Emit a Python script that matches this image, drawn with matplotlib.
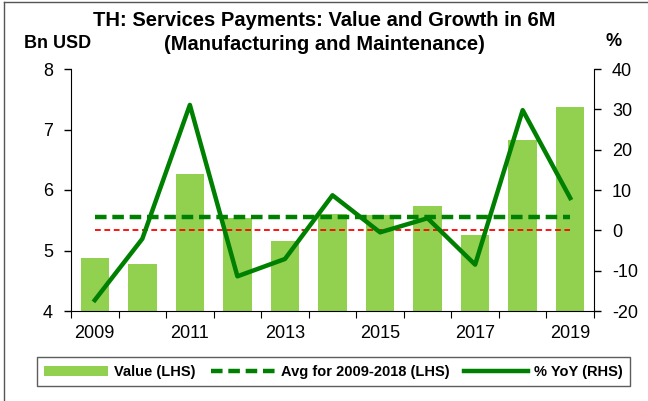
import matplotlib.pyplot as plt
from matplotlib.lines import Line2D
import numpy as np

plt.rcParams['font.family'] = ['Liberation Sans', 'DejaVu Sans']
plt.rcParams['axes.unicode_minus'] = False

years = ['2009', '2010', '2011', '2012', '2013', '2014', '2015', '2016', '2017', '2018', '2019']
value_bn = [4.87, 4.77, 6.26, 5.54, 5.15, 5.60, 5.58, 5.73, 5.25, 6.83, 7.38]
yoy_pct = [-17.3, -2.1, 31.1, -11.4, -7.1, 8.7, -0.5, 3.0, -8.5, 29.8, 8.0]
avg_label = 'Avg for 2009-2018 (LHS)'

bar_green = '#92D050'
dark_green = '#008000'

x = np.arange(len(years))
avg_val = np.mean(value_bn[:10])

fig = plt.figure(figsize=(6.48, 4.01), dpi=100)
ax = fig.add_axes([71 / 648, 1 - 311 / 401, 523 / 648, 242 / 401])
ax2 = ax.twinx()

bars = ax.bar(x, value_bn, width=0.6, color=bar_green, zorder=1)
avg_line, = ax.plot([x[0], x[-1]], [avg_val, avg_val], color=dark_green,
                    lw=3.2, dashes=(2.6, 1.3), zorder=2)
ax2.plot([x[0], x[-1]], [0, 0], color='red', lw=1.3, dashes=(3.2, 2.0))
yoy_line, = ax2.plot(x, yoy_pct, color=dark_green, lw=3.2, zorder=3)

ax.set_ylim(4, 8)
ax.set_yticks([4, 5, 6, 7, 8])
ax2.set_ylim(-20, 40)
ax2.set_yticks([-20, -10, 0, 10, 20, 30, 40])
ax.set_xlim(-0.5, len(years) - 0.5)

# ticks between categories, labels every other year
ax.set_xticks(np.arange(-0.5, len(years), 1.0))
ax.set_xticklabels([])
ax.set_xticks(x[::2], minor=True)
ax.set_xticklabels(years[::2], minor=True)
ax.tick_params(axis='x', which='major', length=5, direction='out', color='black')

for a in (ax, ax2):
    a.spines['top'].set_visible(False)
    a.tick_params(axis='y', labelsize=13, length=5, width=1, pad=8)
ax.tick_params(axis='x', which='minor', length=0, pad=10, labelsize=13)
ax.spines['right'].set_visible(False)
ax2.spines['left'].set_visible(False)
ax2.spines['bottom'].set_visible(False)

fig.text(0.5, 1 - 21 / 401, 'TH: Services Payments: Value and Growth in 6M',
         ha='center', va='center', fontsize=14.5, fontweight='bold')
fig.text(0.5, 1 - 44 / 401, '(Manufacturing and Maintenance)',
         ha='center', va='center', fontsize=14.5, fontweight='bold')
fig.text(58 / 648, 1 - 44 / 401, 'Bn USD', ha='center', va='center',
         fontsize=13, fontweight='bold')
fig.text(614 / 648, 1 - 41 / 401, '%', ha='center', va='center',
         fontsize=13, fontweight='bold')

leg = fig.legend([bars, avg_line, yoy_line],
                 ['Value (LHS)', avg_label, '% YoY (RHS)'],
                 loc='lower left', ncol=3, mode='expand',
                 bbox_to_anchor=(37 / 648, 1 - 386 / 401, 593 / 648, 33 / 401),
                 prop={'weight': 'bold', 'size': 10.5}, frameon=True,
                 fancybox=False, edgecolor='#333333', handlelength=4.4,
                 handletextpad=0.4, columnspacing=0.4, borderaxespad=0,
                 borderpad=0.5)
leg.get_frame().set_linewidth(1.0)

# outer chart border (top and left edges visible in reference)
fig.add_artist(Line2D([4 / 648, 1], [1 - 2 / 401, 1 - 2 / 401], color='#555555', lw=1))
fig.add_artist(Line2D([4 / 648, 4 / 648], [0, 1 - 2 / 401], color='#555555', lw=1))

fig.savefig('out.png', dpi=100)
